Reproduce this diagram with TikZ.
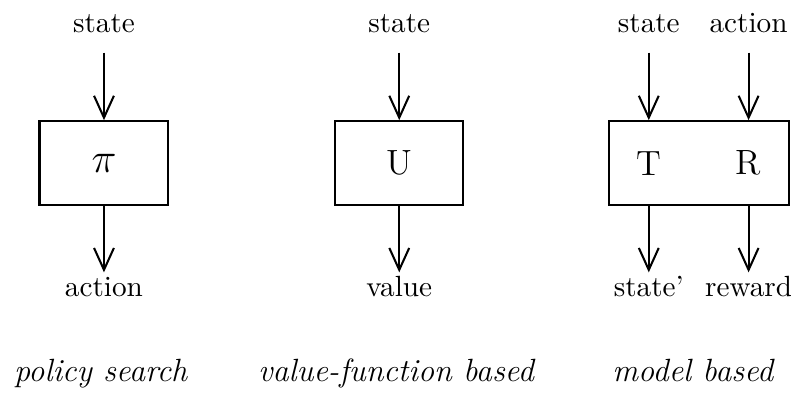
\documentclass[tikz,border=0pt]{standalone}
\usepackage{tikz}
\usetikzlibrary{arrows.meta, positioning}
\tikzset{
  block/.style={draw, line width=0.7pt, minimum height=1.01cm, inner sep=0pt},
  lbl/.style={anchor=base, text height=6.9pt, text depth=0pt},
  inlbl/.style={lbl, inner xsep=0pt, inner ysep=6.5pt},
  outlbl/.style={lbl, inner xsep=0pt, inner ysep=1pt},
  kind/.style={anchor=base, font=\fontsize{11}{13}\selectfont\itshape},
  arr/.style={line width=0.7pt, -{Straight Barb[length=7.5pt,width=6.8pt,line width=0.7pt]}}
}
\begin{document}
\begin{tikzpicture}
\useasboundingbox (0,0) rectangle (9.51,4.713);
% boxes
\node[block, minimum width=1.55cm, font=\Large] (pol) at (1.25,2.751) {$\pi$};
\node[block, minimum width=1.54cm, font=\large] (val) at (4.80,2.751) {U};
\node[block, minimum width=2.16cm] (mdl) at (8.40,2.751) {};
\node[font=\large] (trans) at (7.80,2.751) {T};
\node[font=\large] (rew) at (9.00,2.751) {R};
%
% inputs
\node[inlbl] (pin) at (1.25,4.317) {state};
\node[inlbl] (vin) at (4.80,4.317) {state};
\node[inlbl] (min) at (7.80,4.317) {state};
\node[inlbl] (ain) at (9.00,4.317) {action};
\draw[arr] (pin.south) -- (pol.north);
\draw[arr] (vin.south) -- (val.north);
\draw[arr] (min.south) -- (min.south |- mdl.north);
\draw[arr] (ain.south) -- (ain.south |- mdl.north);
%
% outputs
\node[outlbl] (pout) at (1.25,1.154) {action};
\node[outlbl] (vout) at (4.80,1.154) {value};
\node[outlbl] (mout) at (7.80,1.154) {state'};
\node[outlbl] (rout) at (9.00,1.154) {reward};
\draw[arr] (pol.south) -- (pout.north);
\draw[arr] (val.south) -- (vout.north);
\draw[arr] (mout.north |- mdl.south) -- (mout.north);
\draw[arr] (rout.north |- mdl.south) -- (rout.north);
%
% captions
\node[kind] (pcap) at (1.21,0.13) {policy search};
\node[kind] (vcap) at (4.76,0.13) {value-function based};
\node[kind] (mcap) at (8.33,0.13) {model based};
\end{tikzpicture}
\end{document}
